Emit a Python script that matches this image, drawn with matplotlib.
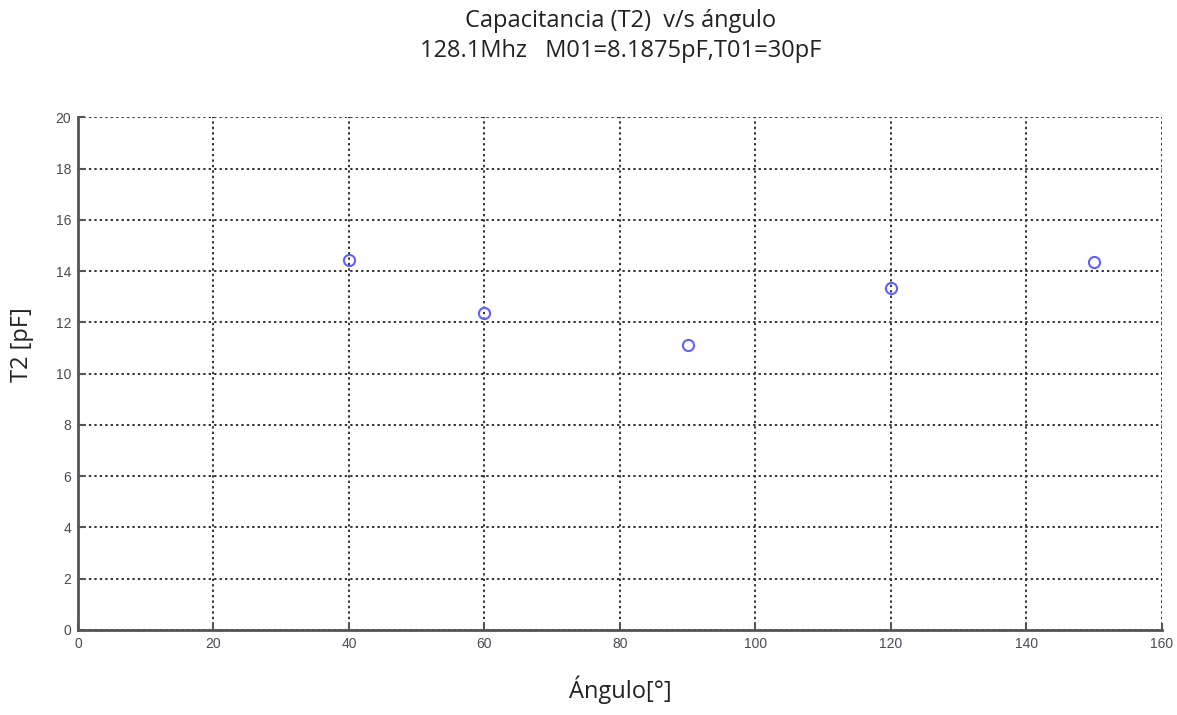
import matplotlib.pyplot as plt

angulo = [40, 60, 90, 120, 150]
t2_pf = [14.42, 12.35, 11.1, 13.32, 14.35]
x_ticks = list(range(0, 161, 20))
y_ticks = list(range(0, 21, 2))

fig = plt.figure(figsize=(11.77, 7.15), dpi=100)
ax = fig.add_axes([0.0663, 0.119, 0.9207, 0.717])

ax.plot(angulo, t2_pf, linestyle='none', marker='o', markersize=8,
        markerfacecolor='none', markeredgecolor='#6060ff', markeredgewidth=1.5)

ax.set_xlim(0, 160)
ax.set_ylim(0, 20)
ax.set_xticks(x_ticks)
ax.set_yticks(y_ticks)

tick_font = ['Liberation Sans Narrow', 'Liberation Sans', 'DejaVu Sans']
for lbl in ax.get_xticklabels() + ax.get_yticklabels():
    lbl.set_family(tick_font)
    lbl.set_fontsize(10)
    lbl.set_color('#4a4a55')

ax.tick_params(direction='in', length=5, width=1.5, color='#555555', pad=5)
ax.grid(True, color='#333333', linestyle=(0, (1.2, 1.6)), linewidth=1.4)
for s in ['top', 'right']:
    ax.spines[s].set_visible(False)
for s in ['left', 'bottom']:
    ax.spines[s].set_color('#555555')
    ax.spines[s].set_linewidth(2)

title_font = ['Open Sans', 'DejaVu Sans']
fig.text(0.527, 0.97, 'Capacitancia (T2)  v/s ángulo', ha='center', va='center',
         fontsize=17, family=title_font, color='#222222')
fig.text(0.527, 0.928, '128.1Mhz   M01=8.1875pF,T01=30pF', ha='center', va='center',
         fontsize=17, family=title_font, color='#222222')
fig.text(0.527, 0.035, 'Ángulo[°]', ha='center', va='center',
         fontsize=17, family=title_font, color='#222222')
fig.text(0.019, 0.518, 'T2 [pF]', ha='center', va='center', rotation=90,
         fontsize=17, family=title_font, color='#222222')

fig.savefig('out.png', dpi=100)
